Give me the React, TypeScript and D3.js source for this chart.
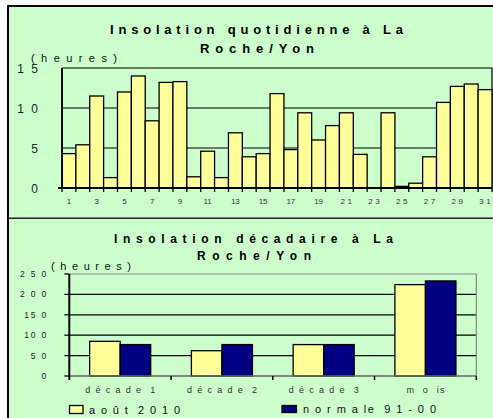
import * as d3 from 'd3';

// daily sunshine hours, August 2010 (day 1..31)
const days = d3.range(1, 32).map(String);
const dailyHours = [
  4.3, 5.4, 11.5, 1.3, 12.0, 14.0, 8.4, 13.2, 13.3, 1.4, 4.6, 1.3, 6.9, 3.9, 4.3, 11.8,
  4.8, 9.4, 6.0, 7.8, 9.4, 4.2, 0, 9.4, 0.2, 0.6, 3.9, 10.7, 12.7, 13.0, 12.3,
];
const dayTickLabels = ['1', '3', '5', '7', '9', '11', '13', '15', '17', '19', '21', '23', '25', '27', '29', '31'];
const dailyTicks = [0, 5, 10, 15];
const dailyTickLabels = ['0', '5', '1 0', '1 5'];

// ten-day totals
const periods = ['décade 1', 'décade 2', 'décade 3', 'mois'];
const periodLabels = ['d é c a d e  1', 'd é c a d e  2', 'd é c a d e  3', 'm  o  is'];
const series = ['août 2010', 'normale 91-00'];
const seriesLabels = ['a o û t  2 0 1 0', 'n o r m a le  9 1 - 0 0'];
const aout2010 = [85, 62, 77, 224];
const normale = [77, 77, 77, 233];
const periodTicks = [0, 50, 100, 150, 200, 250];
const periodTickLabels = ['0', '5 0', '10 0', '15 0', '2 0 0', '2 5 0'];

const BG = '#ccffcc';
const YELLOW = '#ffff99';
const NAVY = '#000080';
const FONT = "Arial, 'Liberation Sans', sans-serif";

function DailyChart() {
  const x = d3.scaleBand<string>().domain(days).range([62, 492]).padding(0);
  const y = d3.scaleLinear().domain([0, 15]).range([188, 68]);
  const [x0, x1] = x.range();

  return (
    <g>
      <text x={256.5} y={34} textAnchor="middle" fontSize={13} fontWeight="bold" textLength={293} lengthAdjust="spacing">
        Insolation quotidienne à La
      </text>
      <text x={257} y={52.5} textAnchor="middle" fontSize={13} fontWeight="bold" textLength={114} lengthAdjust="spacing">
        Roche/Yon
      </text>
      <text x={31} y={62} fontSize={11} fill="#111" textLength={86} lengthAdjust="spacing">
        (heures)
      </text>

      {/* grid */}
      {dailyTicks.slice(1).map((t) => (
        <line key={t} x1={x0} x2={x1} y1={y(t)} y2={y(t)} stroke="#000" strokeWidth={1.2} />
      ))}
      <line x1={x1} x2={x1} y1={y(15)} y2={y(0)} stroke="#000" strokeWidth={1.2} />

      {/* bars */}
      {dailyHours.map((v, i) => (
        <rect
          key={i}
          x={x(days[i])}
          y={y(v)}
          width={x.bandwidth()}
          height={y(0) - y(v)}
          fill={YELLOW}
          stroke="#000"
          strokeWidth={1.3}
        />
      ))}

      {/* axes */}
      <line x1={x0} x2={x0} y1={y(15)} y2={y(0)} stroke="#000" strokeWidth={2} />
      <line x1={x0 - 4} x2={x1} y1={y(0)} y2={y(0)} stroke="#000" strokeWidth={2} />
      {days.concat(['32']).map((d, i) => {
        const px = x0 + i * x.step();
        return <line key={d} x1={px} x2={px} y1={y(0)} y2={y(0) + 4} stroke="#000" strokeWidth={1.3} />;
      })}
      {dayTickLabels.map((lab, i) => (
        <text
          key={lab}
          x={(x(days[i * 2]) as number) + x.bandwidth() / 2 + (i >= 10 ? 1.2 : 0)}
          y={204}
          textAnchor="middle"
          fontSize={8}
          fill="#333"
          letterSpacing={i >= 10 ? 2.5 : 0}
        >
          {lab}
        </text>
      ))}
      {dailyTicks.map((t, i) => (
        <text
          key={t}
          x={40}
          y={y(t) + 4.5}
          textAnchor="end"
          fontSize={12}
          fill="#222"
          letterSpacing={2}
          xmlSpace="preserve"
          style={{ whiteSpace: 'pre' }}
        >
          {dailyTickLabels[i]}
        </text>
      ))}
    </g>
  );
}

function PeriodChart() {
  const x = d3.scaleBand<string>().domain(periods).range([69.3, 476.3]).padding(0);
  const xs = d3.scaleBand<string>().domain(series).range([x.step() * 0.2, x.step() * 0.8]).padding(0);
  const y = d3.scaleLinear().domain([0, 250]).range([376, 274]);
  const [x0, x1] = x.range();
  const values = [aout2010, normale];
  const colors = [YELLOW, NAVY];

  return (
    <g>
      <text x={253.5} y={242.5} textAnchor="middle" fontSize={12} fontWeight="bold" textLength={279} lengthAdjust="spacing">
        Insolation décadaire à La
      </text>
      <text x={254} y={259.5} textAnchor="middle" fontSize={12} fontWeight="bold" textLength={114} lengthAdjust="spacing">
        Roche/Yon
      </text>
      <text x={51} y={270} fontSize={11} fill="#111" textLength={80} lengthAdjust="spacing">
        (heures)
      </text>

      {/* grid */}
      {periodTicks.slice(1, -1).map((t) => (
        <line key={t} x1={x0} x2={x1} y1={y(t)} y2={y(t)} stroke="#000" strokeWidth={1.2} />
      ))}
      <line x1={x0} x2={x1} y1={y(250)} y2={y(250)} stroke="#888" strokeWidth={1.2} />
      <line x1={x1} x2={x1} y1={y(250)} y2={y(0)} stroke="#888" strokeWidth={1.2} />

      {/* bars */}
      {periods.map((p, i) =>
        series.map((s, j) => (
          <rect
            key={p + s}
            x={(x(p) as number) + (xs(s) as number)}
            y={y(values[j][i])}
            width={xs.bandwidth()}
            height={y(0) - y(values[j][i])}
            fill={colors[j]}
            stroke="#000"
            strokeWidth={1.3}
          />
        )),
      )}

      {/* axes */}
      <line x1={x0} x2={x1} y1={y(0)} y2={y(0)} stroke="#666" strokeWidth={1.5} />
      <line x1={x0} x2={x0} y1={y(250)} y2={y(0) + 4} stroke="#000" strokeWidth={2} />
      {periodTicks.map((t) => (
        <line key={t} x1={x0 - 5} x2={x0} y1={y(t)} y2={y(t)} stroke="#000" strokeWidth={1.2} />
      ))}
      {periods.map((p, i) => {
        const px = x0 + (i + 1) * x.step();
        return <line key={p} x1={px} x2={px} y1={y(0)} y2={y(0) + 4} stroke="#000" strokeWidth={1.5} />;
      })}
      {periodLabels.map((lab, i) => (
        <text
          key={lab}
          x={(x(periods[i]) as number) + x.step() / 2}
          y={393}
          textAnchor="middle"
          fontSize={9}
          fill="#333"
          textLength={i < 3 ? 70 : 38}
          lengthAdjust="spacing"
          xmlSpace="preserve"
          style={{ whiteSpace: 'pre' }}
        >
          {lab}
        </text>
      ))}
      {periodTicks.map((t, i) => (
        <text
          key={t}
          x={48}
          y={y(t) + 3}
          textAnchor="end"
          fontSize={8.5}
          fill="#222"
          letterSpacing={1.8}
          xmlSpace="preserve"
          style={{ whiteSpace: 'pre' }}
        >
          {periodTickLabels[i]}
        </text>
      ))}

      {/* legend */}
      <rect x={69.5} y={405.5} width={13.5} height={8} fill={YELLOW} stroke="#000" strokeWidth={1.3} />
      <text x={89} y={414} fontSize={11} fill="#111" textLength={91} lengthAdjust="spacing" xmlSpace="preserve" style={{ whiteSpace: 'pre' }}>
        {seriesLabels[0]}
      </text>
      <rect x={282} y={405.5} width={14.5} height={7} fill={NAVY} stroke="#000" strokeWidth={1.3} />
      <text x={303} y={413} fontSize={11} fill="#111" textLength={133} lengthAdjust="spacing" xmlSpace="preserve" style={{ whiteSpace: 'pre' }}>
        {seriesLabels[1]}
      </text>
    </g>
  );
}

export default function App() {
  return (
    <svg
      width={493}
      height={418}
      style={{ position: 'absolute', left: 0, top: 0, display: 'block', background: '#fff' }}
      fontFamily={FONT}
    >
      <rect x={8} y={6} width={500} height={430} fill={BG} stroke="#000" strokeWidth={2} />
      <line x1={8} x2={493} y1={218.3} y2={218.3} stroke="#222" strokeWidth={1.5} />
      <DailyChart />
      <PeriodChart />
    </svg>
  );
}
